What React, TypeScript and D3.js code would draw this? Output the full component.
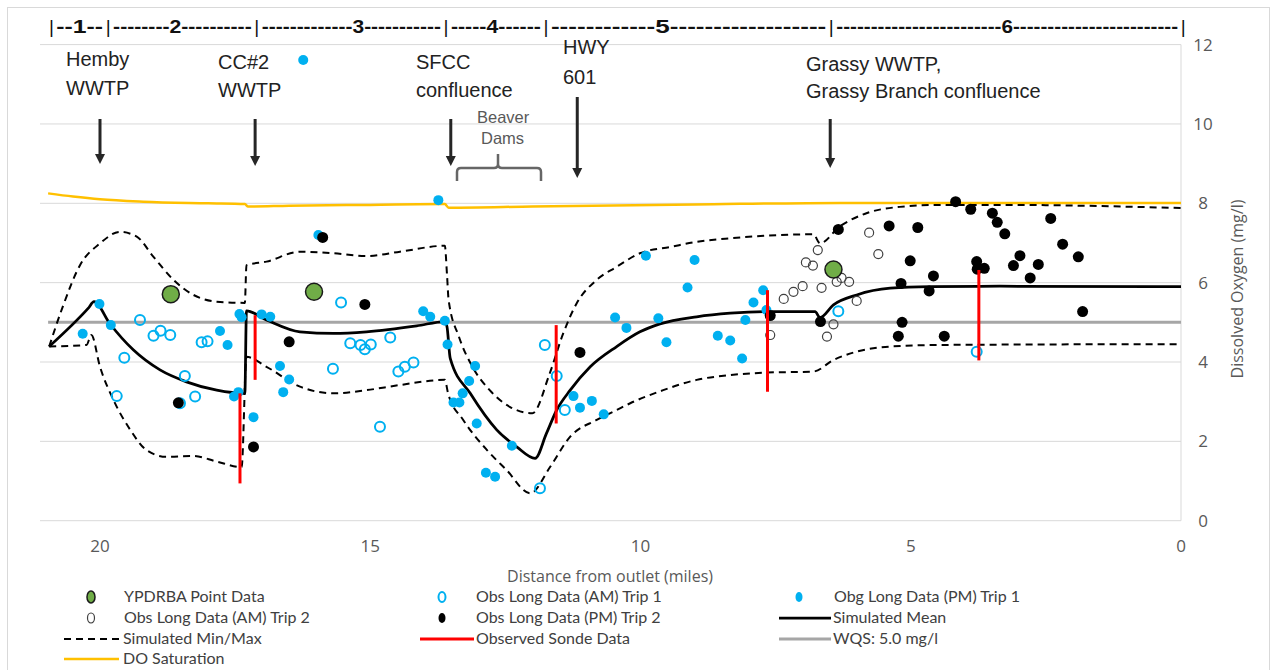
import React from 'react';
import * as d3 from 'd3';

// ---------- data ----------
const yTicks = [0, 2, 4, 6, 8, 10, 12];
const xTicks = [20, 15, 10, 5, 0];

const ypdrba: [number, number][] = [[18.69, 5.71], [16.04, 5.77], [6.43, 6.33]];

const amTrip1: [number, number][] = [
  [19.26, 5.06], [19.01, 4.66], [18.88, 4.79], [18.70, 4.68], [19.55, 4.11], [19.69, 3.14], [18.43, 3.65],
  [18.24, 3.13], [18.52, 2.96], [18.12, 4.50], [18.01, 4.52],
  [15.54, 5.50], [15.37, 4.47], [15.18, 4.43], [15.10, 4.32], [14.99, 4.44], [14.63, 4.62], [15.69, 3.83],
  [14.48, 3.76], [14.36, 3.88], [14.20, 3.99], [14.82, 2.37],
  [11.77, 4.43], [11.55, 3.65], [11.40, 2.79], [11.86, 0.82],
  [6.34, 5.28], [3.78, 4.26],
];

const pmTrip1: [number, number][] = [
  [16.24, 11.61], [13.74, 8.08],
  [20.32, 4.71], [20.01, 5.46], [19.80, 4.93], [17.78, 4.78], [17.64, 4.43], [17.42, 5.21], [17.38, 5.13],
  [17.52, 3.13], [17.44, 3.24],
  [17.01, 5.20], [16.85, 5.14], [16.67, 3.90], [16.50, 3.56], [16.61, 3.24], [17.16, 2.61], [15.96, 7.20],
  [14.02, 5.28], [13.89, 5.14], [13.62, 5.04], [13.57, 4.44],
  [13.06, 3.90], [13.17, 3.52], [13.29, 3.21], [13.46, 2.98], [13.35, 2.98], [13.03, 2.45], [12.38, 1.89],
  [12.86, 1.21], [12.69, 1.11], [11.24, 3.14], [11.12, 2.85], [10.90, 3.02], [10.68, 2.68], [10.47, 5.12],
  [10.26, 4.86],
  [9.90, 6.68], [9.00, 6.57], [9.13, 5.88], [9.67, 5.10], [9.52, 4.50], [8.57, 4.66], [8.34, 4.54],
  [8.12, 4.09], [8.06, 5.06], [7.91, 5.50], [7.73, 5.81], [7.67, 5.31],
];

const amTrip2: [number, number][] = [
  [7.60, 4.68], [7.35, 5.59], [7.17, 5.77], [7.00, 5.91], [6.94, 6.51], [6.81, 6.43], [6.72, 6.82],
  [6.65, 5.87], [6.55, 4.64], [6.43, 4.95], [6.37, 6.02], [6.28, 6.12], [6.14, 6.02], [6.00, 5.54],
  [5.77, 7.26], [5.60, 6.72],
];

const pmTrip2: [number, number][] = [
  [18.55, 2.97], [15.88, 7.14], [15.10, 5.45], [16.50, 4.51], [17.16, 1.86], [11.12, 4.24], [7.60, 5.17],
  [6.67, 5.02],
  [6.34, 7.34], [5.40, 7.43], [4.87, 7.39], [5.01, 6.55], [4.58, 6.17], [4.66, 5.79], [5.18, 5.98],
  [5.16, 5.00], [5.23, 4.65], [4.38, 4.65], [4.17, 8.04], [3.89, 7.85], [3.78, 6.53], [3.77, 6.34],
  [3.64, 6.36], [3.49, 7.75], [3.40, 7.52], [3.26, 7.23], [2.98, 6.68], [3.10, 6.43], [2.79, 6.12],
  [2.64, 6.46], [2.41, 7.62], [2.19, 6.97], [1.90, 6.65], [1.82, 5.27],
];

const simMean: [number, number][] = [
  [20.94, 4.39], [20.22, 5.35], [20.11, 5.52], [19.82, 4.97], [19.38, 4.30], [18.89, 3.80], [18.40, 3.50],
  [17.84, 3.29], [17.32, 3.21], [17.29, 5.29], [16.92, 5.06], [16.30, 4.76], [15.68, 4.72], [15.07, 4.76],
  [14.14, 4.91], [13.62, 5.02], [13.58, 4.89], [13.52, 4.09], [13.15, 3.21], [12.66, 2.29], [12.29, 1.86],
  [11.95, 1.57], [11.74, 2.20], [11.55, 2.79], [11.30, 3.29], [10.93, 3.88], [10.44, 4.39], [10.01, 4.76],
  [9.64, 4.96], [8.96, 5.14], [8.34, 5.23], [7.67, 5.27], [6.77, 5.27], [6.68, 5.12], [6.43, 5.44],
  [6.00, 5.69], [5.38, 5.86], [4.64, 5.90], [3.35, 5.91], [0, 5.90],
];

const simMax: [number, number][] = [
  [20.94, 4.39], [20.69, 5.39], [20.37, 6.44], [20.0, 6.99], [19.63, 7.28], [19.32, 7.16], [19.01, 6.65],
  [18.64, 6.07], [18.27, 5.69], [17.84, 5.52], [17.32, 5.49], [17.29, 6.44], [16.92, 6.53], [16.30, 6.78],
  [15.68, 6.74], [15.07, 6.67], [14.45, 6.78], [13.62, 6.93], [13.58, 6.2], [13.55, 5.56], [13.36, 4.64],
  [13.11, 3.88], [12.79, 3.29], [12.42, 2.87], [12.0, 2.71], [11.68, 3.71], [11.43, 4.72], [11.18, 5.48],
  [10.81, 6.07], [10.44, 6.40], [10.01, 6.74], [9.41, 6.91], [8.96, 7.03], [8.34, 7.12], [7.72, 7.18],
  [6.80, 7.22], [6.68, 6.99], [6.32, 7.41], [5.82, 7.75], [5.20, 7.91], [4.46, 7.96], [3.35, 7.96], [0, 7.88],
];

const simMin: [number, number][] = [
  [20.94, 4.39], [20.25, 4.43], [20.16, 4.68], [20.0, 3.88], [19.75, 3.04], [19.44, 2.29], [19.14, 1.78],
  [18.77, 1.61], [18.27, 1.63], [17.84, 1.49], [17.38, 1.35], [17.29, 4.13], [16.92, 3.88], [16.30, 3.38],
  [15.68, 3.21], [15.07, 3.29], [14.45, 3.42], [13.62, 3.55], [13.56, 3.21], [13.28, 2.54], [12.84, 1.78],
  [12.48, 1.28], [12.04, 0.69], [11.67, 1.36], [11.30, 2.12], [10.81, 2.54], [10.44, 2.79], [10.19, 2.96],
  [9.58, 3.29], [8.96, 3.55], [8.34, 3.67], [7.72, 3.73], [6.80, 3.76], [6.43, 4.05], [6.00, 4.26],
  [5.38, 4.39], [4.46, 4.43], [0, 4.45],
];

// [mile, low, high]
const sonde: [number, number, number][] = [
  [17.41, 0.94, 3.21], [17.13, 3.55, 5.18], [11.56, 2.45, 4.93], [7.65, 3.25, 5.81], [3.74, 4.04, 6.32],
];

const wqs: [number, number][] = [[20.96, 5.0], [0, 5.0]];

const doSat: [number, number][] = [
  [20.96, 8.25], [20.5, 8.17], [20.0, 8.1], [19.2, 8.04], [18.0, 8.0], [17.32, 7.98], [17.26, 7.92],
  [16.5, 7.94], [15.0, 7.96], [13.62, 7.98], [13.55, 7.89], [12.0, 7.92], [9.0, 7.97], [6.3, 8.01], [0, 8.01],
];

const segmentLabels = ['--1--', '--------2----------', '-------------3-----------', '-----4------',
  '------------5------------------', '------------------------6------------------------'];
const segmentBounds = [20.9, 19.85, 17.1, 13.6, 11.75, 6.47, -0.04];

const annotations = [
  { mile: 20.0, lines: ['Hemby', 'WWTP'] },
  { mile: 17.13, lines: ['CC#2', 'WWTP'] },
  { mile: 13.51, lines: ['SFCC', 'confluence'] },
  { mile: 11.17, lines: ['HWY', '601'] },
  { mile: 6.49, lines: ['Grassy WWTP,', 'Grassy Branch confluence'] },
];

// ---------- layout ----------
const W = 1273, H = 670;
const x = d3.scaleLinear().domain([21.11, 0]).range([40, 1181]);
const y = d3.scaleLinear().domain([0, 12]).range([520.7, 44.6]);

const BLUE = '#00B0F0';
const GRID = '#D9D9D9';
const TXT = '#595959';
const AXF = '"Open Sans", "Noto Sans", sans-serif';
const ANF = '"Liberation Sans", Arial, sans-serif';
const LGF = 'Lato, "Open Sans", sans-serif';

const line = d3.line<[number, number]>().x(d => x(d[0])).y(d => y(d[1])).curve(d3.curveMonotoneX);
const straight = d3.line<[number, number]>().x(d => x(d[0])).y(d => y(d[1]));

function Arrow({ px, y1, y2 }: { px: number; y1: number; y2: number }) {
  return (
    <g>
      <line x1={px} x2={px} y1={y1} y2={y2 - 8} stroke="#262626" strokeWidth={3} />
      <path d={`M${px - 5},${y2 - 10} L${px + 5},${y2 - 10} L${px},${y2} Z`} fill="#262626" />
    </g>
  );
}

export default function App() {
  const annoLabelPos = [
    { lx: 66, b1: 66, b2: 95, a1: 119, a2: 164 },
    { lx: 218, b1: 69, b2: 97, a1: 119, a2: 166 },
    { lx: 416, b1: 69, b2: 97, a1: 119, a2: 166 },
    { lx: 563, b1: 54, b2: 84, a1: 97, a2: 178 },
    { lx: 806, b1: 71, b2: 98, a1: 119, a2: 168 },
  ];
  const legX = [64, 420, 779];
  const legY = [597, 618, 639, 659];

  return (
    <svg width={W} height={H} style={{ display: 'block', position: 'absolute', left: 0, top: 0 }}>
      <rect x={0} y={0} width={W} height={H} fill="#fff" />
      <rect x={7.5} y={7.5} width={1262} height={700} fill="none" stroke={GRID} strokeWidth={1} />

      {/* gridlines */}
      {yTicks.map(t => (
        <line key={t} x1={40} x2={1181} y1={y(t)} y2={y(t)} stroke={GRID} strokeWidth={1} />
      ))}
      <line x1={1181} x2={1181} y1={y(12)} y2={y(0)} stroke={GRID} strokeWidth={1} />

      {/* y tick labels */}
      {yTicks.map(t => (
        <text key={t} x={1203} y={y(t) + 6} textAnchor="middle" fontFamily={AXF} fontSize={17} fill={TXT}>{t}</text>
      ))}
      <text transform={`translate(1243,${289}) rotate(-90)`} textAnchor="middle" fontFamily={AXF} fontSize={16} fill={TXT}>
        Dissolved Oxygen (mg/l)
      </text>
      {xTicks.map(t => (
        <text key={t} x={x(t)} y={552} textAnchor="middle" fontFamily={AXF} fontSize={17} fill={TXT}>{t}</text>
      ))}
      <text x={610} y={582} textAnchor="middle" fontFamily={AXF} fontSize={16} fill={TXT}>Distance from outlet (miles)</text>

      {/* top segment banner */}
      {segmentBounds.map((m, i) => (
        <text key={'p' + i} x={x(m)} y={33} textAnchor="middle" fontFamily={ANF} fontSize={19} fill="#111">|</text>
      ))}
      {segmentLabels.map((s, i) => {
        const a = x(segmentBounds[i]) + 5, b = x(segmentBounds[i + 1]) - 5;
        return (
          <text key={'s' + i} x={a} y={33} textLength={b - a} lengthAdjust="spacingAndGlyphs"
            fontFamily={ANF} fontSize={19} fontWeight={600} fill="#111">{s}</text>
        );
      })}

      {/* annotations */}
      {annotations.map((a, i) => {
        const p = annoLabelPos[i];
        return (
          <g key={i}>
            <text x={p.lx} y={p.b1} fontFamily={ANF} fontSize={20} fill="#222">{a.lines[0]}</text>
            <text x={p.lx} y={p.b2} fontFamily={ANF} fontSize={20} fill="#222">{a.lines[1]}</text>
            <Arrow px={x(a.mile)} y1={p.a1} y2={p.a2} />
          </g>
        );
      })}
      <text x={477} y={123} fontFamily={ANF} fontSize={16.5} fill={TXT}>Beaver</text>
      <text x={481} y={144} fontFamily={ANF} fontSize={16.5} fill={TXT}>Dams</text>
      <path d="M457,181 L457,172 Q457,168 461,168 L494,168 Q498,168 498,164 L498,154 M498,164 Q498,168 502,168 L537,168 Q541,168 541,172 L541,181"
        fill="none" stroke="#666" strokeWidth={2.5} />

      {/* lines */}
      <path d={straight(wqs) || ''} fill="none" stroke="#A6A6A6" strokeWidth={3} />
      <path d={line(doSat) || ''} fill="none" stroke="#FFC000" strokeWidth={2.5} />
      <path d={line(simMax) || ''} fill="none" stroke="#000" strokeWidth={2} strokeDasharray="7,5" />
      <path d={line(simMin) || ''} fill="none" stroke="#000" strokeWidth={2} strokeDasharray="7,5" />
      <path d={line(simMean) || ''} fill="none" stroke="#000" strokeWidth={2.75} />

      {/* markers */}
      {pmTrip1.map((d, i) => (
        <circle key={'pm1' + i} cx={x(d[0])} cy={y(d[1])} r={5} fill={BLUE} />
      ))}
      {amTrip1.map((d, i) => (
        <circle key={'am1' + i} cx={x(d[0])} cy={y(d[1])} r={5} fill="none" stroke={BLUE} strokeWidth={2} />
      ))}
      {amTrip2.map((d, i) => (
        <circle key={'am2' + i} cx={x(d[0])} cy={y(d[1])} r={4.5} fill="none" stroke="#404040" strokeWidth={1.2} />
      ))}
      {pmTrip2.map((d, i) => (
        <circle key={'pm2' + i} cx={x(d[0])} cy={y(d[1])} r={5.5} fill="#000" />
      ))}
      {sonde.map((d, i) => (
        <line key={'so' + i} x1={x(d[0])} x2={x(d[0])} y1={y(d[1])} y2={y(d[2])} stroke="#FF0000" strokeWidth={3} />
      ))}
      {ypdrba.map((d, i) => (
        <circle key={'yp' + i} cx={x(d[0])} cy={y(d[1])} r={8.5} fill="#70AD47" stroke="#1a1a1a" strokeWidth={1.5} />
      ))}

      {/* legend */}
      <g fontFamily={LGF} fontSize={16} fill="#404040">
        <ellipse cx={91} cy={legY[0]} rx={4} ry={6} fill="#70AD47" stroke="#1a1a1a" strokeWidth={1.5} />
        <text x={124} y={legY[0] + 5}>YPDRBA Point Data</text>
        <ellipse cx={442} cy={legY[0]} rx={3.5} ry={5} fill="none" stroke={BLUE} strokeWidth={2} />
        <text x={476} y={legY[0] + 5}>Obs Long Data (AM) Trip 1</text>
        <ellipse cx={799} cy={legY[0]} rx={3.5} ry={5} fill={BLUE} />
        <text x={834} y={legY[0] + 5}>Obg Long Data (PM) Trip 1</text>

        <ellipse cx={91} cy={legY[1]} rx={3.5} ry={5} fill="none" stroke="#404040" strokeWidth={1.2} />
        <text x={124} y={legY[1] + 5}>Obs Long Data (AM) Trip 2</text>
        <ellipse cx={442} cy={legY[1]} rx={3.5} ry={5} fill="#000" />
        <text x={476} y={legY[1] + 5}>Obs Long Data (PM) Trip 2</text>
        <line x1={legX[2]} x2={831} y1={legY[1]} y2={legY[1]} stroke="#000" strokeWidth={2.75} />
        <text x={833} y={legY[1] + 5}>Simulated Mean</text>

        <line x1={legX[0]} x2={119} y1={legY[2]} y2={legY[2]} stroke="#000" strokeWidth={2} strokeDasharray="7,5" />
        <text x={123} y={legY[2] + 5}>Simulated Min/Max</text>
        <line x1={legX[1]} x2={474} y1={legY[2]} y2={legY[2]} stroke="#FF0000" strokeWidth={3} />
        <text x={476} y={legY[2] + 5}>Observed Sonde Data</text>
        <line x1={legX[2]} x2={831} y1={legY[2]} y2={legY[2]} stroke="#A6A6A6" strokeWidth={3} />
        <text x={833} y={legY[2] + 5}>WQS: 5.0 mg/l</text>

        <line x1={legX[0]} x2={119} y1={legY[3]} y2={legY[3]} stroke="#FFC000" strokeWidth={2.5} />
        <text x={123} y={legY[3] + 5}>DO Saturation</text>
      </g>
    </svg>
  );
}
